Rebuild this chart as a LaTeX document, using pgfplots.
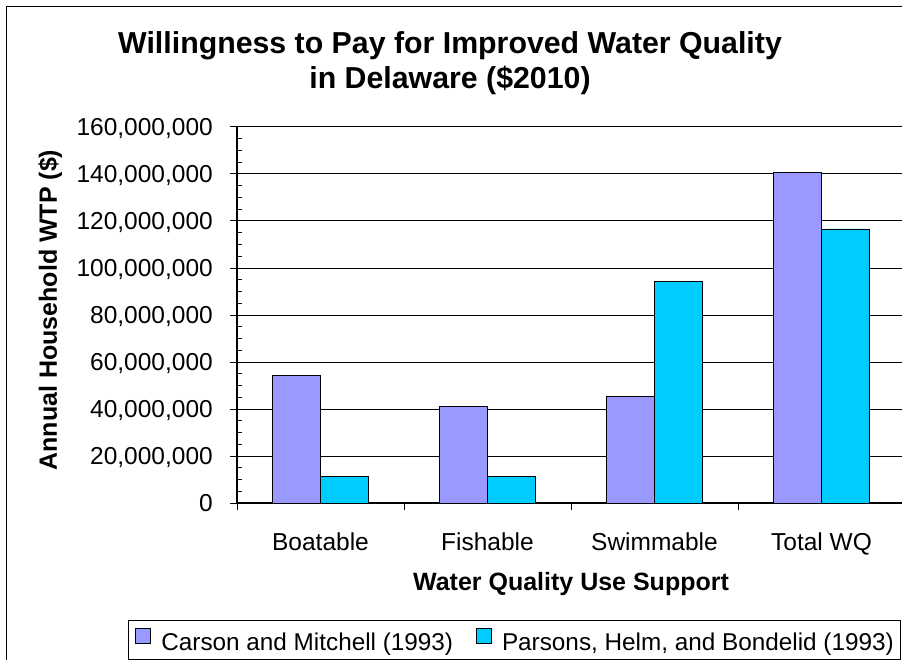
\documentclass[border=0pt]{standalone}
\usepackage{fontspec}
\setmainfont{Liberation Sans}
\usepackage{pgfplots}
\pgfplotsset{compat=1.18}
\definecolor{carson}{HTML}{9999FF}
\definecolor{parsons}{HTML}{00CCFF}

\begin{document}
\begin{tikzpicture}[x=1pt,y=1pt]
\begin{scope}
\clip (0,0) rectangle (902,659);
% chart area frame
\draw[line width=1.3pt] (6.5,-2) -- (6.5,652.5) -- (910,652.5);
\begin{axis}[
  at={(237pt,156pt)}, anchor=south west,
  scale only axis, width=668pt, height=376pt,
  xmin=-0.5, xmax=3.5, ymin=0, ymax=160000000,
  ybar=0pt, bar width=48pt,
  axis x line*=bottom, axis y line*=left,
  axis line style={-, black, line width=1.2pt},
  xtick={-0.5,0.5,1.5,2.5,3.5}, xticklabels={,,,,},
  extra x ticks={0,1,2,3},
  extra x tick labels={Boatable,Fishable,Swimmable,Total WQ},
  extra x tick style={major tick length=0pt},
  xticklabel style={anchor=base, yshift=-47pt},
  ytick={0,20000000,40000000,60000000,80000000,100000000,120000000,140000000,160000000},
  minor y tick num=3,
  tick align=outside, major tick length=7pt, minor tick length=5pt,
  tick style={black, line width=1pt},
  minor y tick style={xshift=5pt},
  ymajorgrids, major grid style={black, line width=1pt},
  scaled y ticks=false,
  /pgf/number format/assume math mode=true,
  yticklabel style={anchor=base east, inner sep=0pt, xshift=-17pt, yshift=-8.7pt,
    /pgf/number format/.cd, fixed, precision=0, 1000 sep={,}},
  tick label style={font=\fontsize{24.5}{29}\selectfont, black},
  title={Willingness to Pay for Improved Water Quality\\in Delaware (\$2010)},
  title style={at={(axis description cs:0.3189,1.155)}, anchor=center, align=center,
    inner sep=0pt, font=\bfseries\fontsize{30.3}{35}\selectfont},
  xlabel={Water Quality Use Support},
  xlabel style={at={(axis description cs:0.5,-0.2314)}, anchor=base, inner sep=0pt,
    font=\bfseries\fontsize{25}{30}\selectfont},
  ylabel={Annual Household WTP (\$)},
  ylabel style={at={(axis description cs:-0.2695,0.513)}, anchor=base, rotate=0, inner sep=0pt,
    font=\bfseries\fontsize{25}{30}\selectfont},
  legend columns=2,
  legend image code/.code={\draw[#1, draw=black, line width=0.9pt] (0pt,-1.5pt) rectangle (15pt,13.5pt);},
  legend style={at={(axis description cs:-0.1632,-0.3112)}, anchor=north west,
    draw=black, line width=1pt, inner xsep=7pt, inner ysep=7.5pt,
    font=\fontsize{24.3}{29}\selectfont,
    nodes={inner sep=0pt},
    /tikz/every odd column/.append style={column sep=10pt},
    /tikz/every even column/.append style={column sep=23pt}},
]
\addplot[fill=carson, draw=black, line width=0.9pt]
  coordinates {(0,54400000) (1,41100000) (2,45500000) (3,140800000)};
\addlegendentry{Carson and Mitchell (1993)}
\addplot[fill=parsons, draw=black, line width=0.9pt]
  coordinates {(0,11100000) (1,11100000) (2,94400000) (3,116600000)};
\addlegendentry{Parsons, Helm, and Bondelid (1993)}
\end{axis}
\end{scope}
\pgfresetboundingbox
\useasboundingbox (0,0) rectangle (902,659);
\end{tikzpicture}
\end{document}
